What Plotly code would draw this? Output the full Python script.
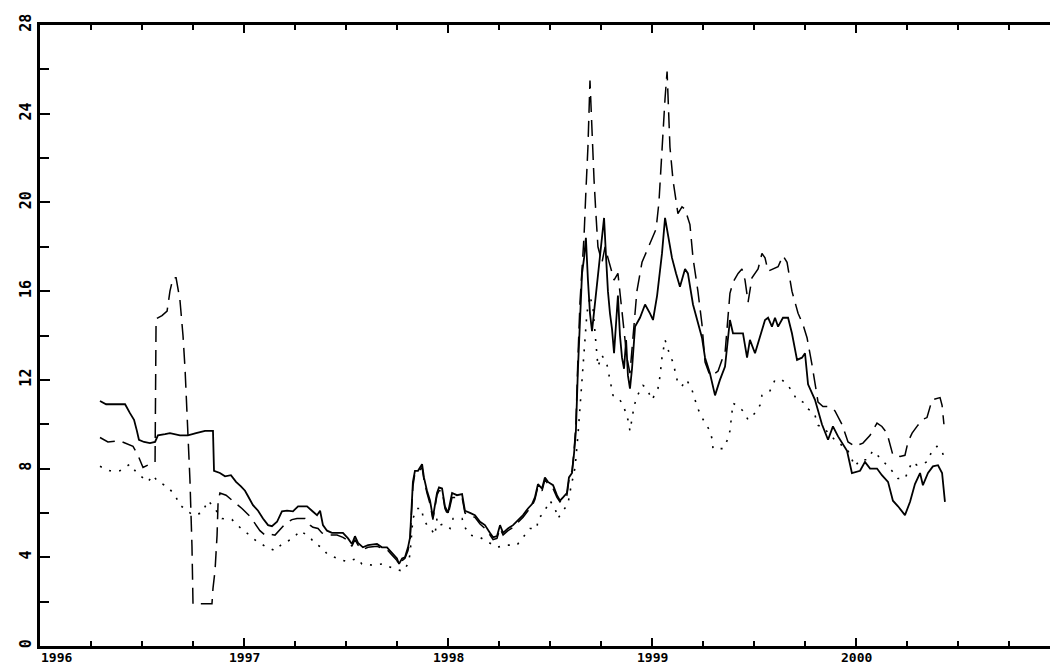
import plotly.graph_objects as go

# ---- series 1 (solid) ----
solid_t = [1996.294, 1996.324, 1996.368, 1996.417, 1996.441, 1996.461, 1996.475, 1996.485, 1996.510, 1996.539,
           1996.564, 1996.578, 1996.613, 1996.637, 1996.686, 1996.725, 1996.765, 1996.809, 1996.848, 1996.853,
           1996.882, 1996.907, 1996.936, 1996.961, 1996.985, 1997.005, 1997.020, 1997.044, 1997.069, 1997.093,
           1997.118, 1997.137, 1997.162, 1997.186, 1997.211, 1997.240, 1997.265, 1997.309, 1997.333, 1997.358,
           1997.373, 1997.387, 1997.407, 1997.431, 1997.456, 1997.485, 1997.510, 1997.529, 1997.544, 1997.559,
           1997.583, 1997.608, 1997.652, 1997.676, 1997.701, 1997.725, 1997.750, 1997.760, 1997.775, 1997.789,
           1997.804, 1997.814, 1997.828, 1997.838, 1997.853, 1997.873, 1997.882, 1997.897, 1997.912, 1997.926,
           1997.946, 1997.956, 1997.971, 1997.985, 1998.000, 1998.020, 1998.044, 1998.069, 1998.083, 1998.108,
           1998.132, 1998.157, 1998.181, 1998.206, 1998.221, 1998.240, 1998.255, 1998.270, 1998.294, 1998.319,
           1998.343, 1998.368, 1998.392, 1998.412, 1998.426, 1998.441, 1998.461, 1998.475, 1998.490, 1998.515,
           1998.534, 1998.549, 1998.564, 1998.583, 1998.593, 1998.608, 1998.618, 1998.627, 1998.637, 1998.647,
           1998.657, 1998.667, 1998.676, 1998.686, 1998.696, 1998.706, 1998.721, 1998.735, 1998.750, 1998.765,
           1998.775, 1998.784, 1998.794, 1998.804, 1998.814, 1998.824, 1998.833, 1998.843, 1998.853, 1998.863,
           1998.873, 1998.882, 1998.892, 1998.902, 1998.917, 1998.941, 1998.966, 1998.990, 1999.005, 1999.025,
           1999.049, 1999.064, 1999.078, 1999.098, 1999.118, 1999.137, 1999.162, 1999.176, 1999.201, 1999.221,
           1999.245, 1999.260, 1999.284, 1999.309, 1999.333, 1999.358, 1999.382, 1999.397, 1999.446, 1999.466,
           1999.480, 1999.505, 1999.529, 1999.554, 1999.569, 1999.588, 1999.603, 1999.618, 1999.642, 1999.667,
           1999.686, 1999.711, 1999.735, 1999.750, 1999.765, 1999.799, 1999.833, 1999.863, 1999.887, 1999.912,
           1999.956, 1999.980, 2000.020, 2000.044, 2000.069, 2000.103, 2000.127, 2000.157, 2000.181, 2000.206,
           2000.240, 2000.265, 2000.289, 2000.314, 2000.328, 2000.353, 2000.377, 2000.402, 2000.422, 2000.426,
           2000.436]
solid_v = [11.05, 10.9, 10.9, 10.9, 10.5, 10.2, 9.7, 9.3, 9.2, 9.15,
           9.2, 9.5, 9.55, 9.6, 9.5, 9.5, 9.6, 9.7, 9.7, 7.9,
           7.8, 7.65, 7.7, 7.4, 7.2, 7.0, 6.75, 6.35, 6.1, 5.75,
           5.45, 5.4, 5.6, 6.07, 6.1, 6.07, 6.3, 6.3, 6.1, 5.9,
           6.1, 5.45, 5.2, 5.1, 5.1, 5.1, 4.85, 4.6, 4.95, 4.65,
           4.45, 4.55, 4.6, 4.45, 4.45, 4.2, 3.95, 3.7, 3.95, 4.0,
           4.45, 4.9, 7.4, 7.9, 7.9, 8.2, 7.6, 7.0, 6.55, 5.8,
           6.9, 7.15, 7.1, 6.3, 6.0, 6.9, 6.8, 6.85, 6.1, 6.0,
           5.9, 5.6, 5.45, 5.1, 4.9, 4.95, 5.45, 5.1, 5.3, 5.45,
           5.65, 5.9, 6.2, 6.4, 6.7, 7.3, 7.1, 7.6, 7.4, 7.25,
           6.8, 6.55, 6.7, 6.9, 7.6, 7.8, 8.7, 9.7, 12.5, 15.0,
           16.8, 17.5, 18.4, 16.5, 15.0, 14.2, 15.5, 16.5, 17.8, 19.3,
           17.5, 16.0, 15.0, 14.3, 13.2, 14.5, 15.8, 14.0, 13.0, 12.5,
           13.8, 12.2, 11.6, 12.5, 14.4, 14.8, 15.4, 15.0, 14.7, 15.8,
           17.7, 19.3, 18.6, 17.5, 16.8, 16.2, 17.0, 16.8, 15.4, 14.7,
           13.9, 13.0, 12.3, 11.3, 12.0, 12.6, 14.7, 14.1, 14.1, 13.0,
           13.8, 13.2, 13.9, 14.7, 14.8, 14.4, 14.8, 14.4, 14.8, 14.8,
           14.1, 12.9, 13.0, 13.2, 11.8, 11.1, 10.0, 9.3, 9.9, 9.45,
           8.8, 7.8, 7.9, 8.3, 8.0, 8.0, 7.7, 7.4, 6.55, 6.3,
           5.9, 6.5, 7.3, 7.8, 7.25, 7.8, 8.1, 8.15, 7.8, 7.3,
           6.5]

# ---- series 2 (dashed) ----
dashed_t = [1996.294, 1996.333, 1996.392, 1996.456, 1996.480, 1996.505, 1996.539, 1996.564, 1996.569, 1996.598,
            1996.623, 1996.637, 1996.652, 1996.667, 1996.686, 1996.701, 1996.711, 1996.721, 1996.725, 1996.735,
            1996.745, 1996.750, 1996.843, 1996.848, 1996.858, 1996.868, 1996.873, 1996.882, 1996.912, 1996.946,
            1996.990, 1997.029, 1997.054, 1997.078, 1997.103, 1997.127, 1997.152, 1997.172, 1997.201, 1997.235,
            1997.260, 1997.299, 1997.324, 1997.338, 1997.363, 1997.382, 1997.407, 1997.431, 1997.456, 1997.485,
            1997.510, 1997.529, 1997.544, 1997.559, 1997.583, 1997.608, 1997.652, 1997.676, 1997.701, 1997.725,
            1997.750, 1997.760, 1997.775, 1997.789, 1997.804, 1997.814, 1997.828, 1997.838, 1997.853, 1997.873,
            1997.882, 1997.897, 1997.912, 1997.926, 1997.946, 1997.956, 1997.971, 1997.985, 1998.000, 1998.020,
            1998.044, 1998.069, 1998.083, 1998.108, 1998.132, 1998.157, 1998.181, 1998.206, 1998.221, 1998.240,
            1998.255, 1998.270, 1998.294, 1998.319, 1998.343, 1998.368, 1998.392, 1998.412, 1998.426, 1998.441,
            1998.461, 1998.475, 1998.490, 1998.515, 1998.534, 1998.549, 1998.564, 1998.583, 1998.593, 1998.608,
            1998.618, 1998.627, 1998.637, 1998.647, 1998.657, 1998.667, 1998.676, 1998.686, 1998.696, 1998.706,
            1998.716, 1998.725, 1998.735, 1998.755, 1998.770, 1998.784, 1998.799, 1998.814, 1998.833, 1998.848,
            1998.863, 1998.877, 1998.892, 1998.907, 1998.926, 1998.951, 1998.975, 1999.000, 1999.020, 1999.034,
            1999.049, 1999.064, 1999.074, 1999.088, 1999.103, 1999.127, 1999.147, 1999.162, 1999.186, 1999.201,
            1999.225, 1999.245, 1999.260, 1999.284, 1999.309, 1999.324, 1999.343, 1999.358, 1999.382, 1999.397,
            1999.422, 1999.441, 1999.456, 1999.471, 1999.490, 1999.520, 1999.539, 1999.554, 1999.569, 1999.593,
            1999.618, 1999.642, 1999.662, 1999.686, 1999.716, 1999.740, 1999.760, 1999.784, 1999.814, 1999.838,
            1999.868, 1999.897, 1999.931, 1999.961, 1999.995, 2000.034, 2000.069, 2000.103, 2000.127, 2000.152,
            2000.181, 2000.216, 2000.240, 2000.255, 2000.275, 2000.299, 2000.324, 2000.348, 2000.373, 2000.412,
            2000.422, 2000.431]
dashed_v = [9.4, 9.2, 9.25, 9.0, 8.6, 8.05, 8.2, 8.3, 14.75, 14.9,
            15.1, 16.0, 16.6, 16.6, 15.6, 14.0, 12.5, 10.5, 9.5, 7.5,
            4.5, 1.9, 1.9, 2.6, 3.4, 5.0, 6.5, 6.9, 6.8, 6.55,
            6.2, 5.85, 5.5, 5.2, 5.0, 5.05, 5.0, 5.2, 5.5, 5.7,
            5.75, 5.75, 5.45, 5.35, 5.3, 5.1, 5.0, 5.0, 5.0, 4.9,
            4.75, 4.5, 4.8, 4.55, 4.35, 4.45, 4.5, 4.4, 4.35, 4.1,
            3.85, 3.65, 3.85, 3.95, 4.3, 4.8, 7.2, 7.8, 7.85, 8.05,
            7.5, 6.9, 6.4, 5.7, 6.8, 7.0, 7.0, 6.2, 5.9, 6.7,
            6.7, 6.7, 6.0, 5.9, 5.8, 5.5, 5.3, 5.0, 4.8, 4.85,
            5.3, 5.0, 5.2, 5.35, 5.55, 5.8, 6.1, 6.3, 6.6, 7.2,
            7.0, 7.5, 7.3, 7.1, 6.7, 6.5, 6.6, 6.8, 7.5, 7.9,
            8.8, 10.0, 13.0, 15.5, 17.0, 18.5, 20.5, 22.5, 25.5, 22.8,
            21.0, 19.5, 18.0, 17.3, 18.0, 17.5, 17.0, 16.5, 16.8, 15.5,
            14.5, 13.0, 12.3, 14.0, 16.0, 17.3, 17.8, 18.4, 18.8, 20.0,
            22.5, 24.7, 25.9, 22.5, 21.0, 19.5, 19.8, 19.7, 19.0, 17.5,
            16.0, 14.5, 12.8, 12.2, 12.3, 12.4, 12.9, 13.2, 15.9, 16.4,
            16.8, 17.0, 16.5, 15.5, 16.6, 17.0, 17.7, 17.5, 16.9, 17.0,
            17.1, 17.6, 17.3, 16.0, 15.0, 14.5, 13.9, 12.7, 11.0, 10.8,
            10.8, 10.6, 10.0, 9.2, 9.0, 9.15, 9.5, 10.05, 9.9, 9.6,
            8.6, 8.55, 8.6, 9.2, 9.6, 9.9, 10.2, 10.3, 11.1, 11.2,
            10.85, 10.0]

# ---- series 3 (dotted) ----
dotted_t = [1996.294, 1996.343, 1996.392, 1996.441, 1996.475, 1996.505, 1996.529, 1996.554, 1996.578, 1996.623,
            1996.662, 1996.686, 1996.716, 1996.750, 1996.794, 1996.824, 1996.848, 1996.892, 1996.941, 1996.980,
            1997.020, 1997.059, 1997.103, 1997.152, 1997.186, 1997.240, 1997.275, 1997.324, 1997.348, 1997.382,
            1997.407, 1997.456, 1997.505, 1997.554, 1997.578, 1997.627, 1997.681, 1997.730, 1997.779, 1997.804,
            1997.814, 1997.824, 1997.828, 1997.848, 1997.873, 1997.877, 1997.897, 1997.922, 1997.936, 1997.946,
            1997.961, 1997.975, 1998.010, 1998.025, 1998.049, 1998.069, 1998.083, 1998.108, 1998.157, 1998.206,
            1998.240, 1998.289, 1998.338, 1998.368, 1998.402, 1998.436, 1998.441, 1998.466, 1998.485, 1998.500,
            1998.525, 1998.539, 1998.564, 1998.588, 1998.598, 1998.623, 1998.637, 1998.652, 1998.667, 1998.681,
            1998.696, 1998.711, 1998.721, 1998.735, 1998.755, 1998.779, 1998.794, 1998.809, 1998.833, 1998.858,
            1998.882, 1998.892, 1998.912, 1998.926, 1998.956, 1998.975, 1999.000, 1999.029, 1999.039, 1999.049,
            1999.064, 1999.074, 1999.088, 1999.103, 1999.113, 1999.123, 1999.147, 1999.162, 1999.176, 1999.196,
            1999.211, 1999.225, 1999.245, 1999.260, 1999.284, 1999.294, 1999.299, 1999.348, 1999.373, 1999.382,
            1999.392, 1999.397, 1999.422, 1999.446, 1999.471, 1999.505, 1999.529, 1999.539, 1999.578, 1999.603,
            1999.637, 1999.667, 1999.691, 1999.711, 1999.740, 1999.760, 1999.784, 1999.799, 1999.814, 1999.848,
            1999.863, 1999.907, 1999.956, 1999.995, 2000.020, 2000.054, 2000.083, 2000.127, 2000.176, 2000.206,
            2000.240, 2000.255, 2000.275, 2000.299, 2000.348, 2000.373, 2000.397, 2000.422, 2000.436]
dotted_v = [8.1, 7.9, 7.9, 8.2, 7.8, 7.6, 7.4, 7.7, 7.4, 7.2,
            6.8, 6.35, 6.15, 5.9, 6.0, 6.55, 6.3, 5.75, 5.7, 5.35,
            5.05, 4.75, 4.5, 4.3, 4.6, 4.85, 5.2, 4.9, 4.6, 4.45,
            4.15, 3.95, 3.8, 3.95, 3.7, 3.65, 3.7, 3.5, 3.37, 3.7,
            4.15, 5.2, 5.75, 6.2, 6.2, 5.8, 5.45, 5.2, 5.0, 5.75,
            5.45, 5.5, 5.3, 5.75, 5.75, 5.75, 5.35, 5.0, 4.9, 4.65,
            4.45, 4.55, 4.55, 4.9, 5.3, 5.3, 5.75, 5.95, 6.25, 6.55,
            6.2, 5.75, 6.1, 6.4, 6.95, 8.05, 9.5, 11.5, 13.5, 15.0,
            15.8, 15.2, 14.1, 12.6, 13.1, 12.7, 12.0, 11.3, 11.2, 10.9,
            10.2, 9.7, 10.8, 11.25, 11.75, 11.6, 11.1, 11.6, 12.15, 13.0,
            13.8, 13.5, 13.1, 12.8, 12.35, 12.0, 11.7, 12.0, 11.9, 11.55,
            11.1, 10.7, 10.3, 10.05, 9.7, 9.35, 8.9, 8.9, 9.35, 9.7,
            10.5, 10.95, 10.8, 10.6, 10.2, 10.5, 10.85, 11.3, 11.5, 12.0,
            12.0, 11.75, 11.4, 11.1, 11.0, 10.7, 10.6, 10.4, 9.95, 9.8,
            9.6, 9.2, 8.9, 8.1, 8.4, 8.4, 8.8, 8.4, 7.9, 7.55,
            7.55, 7.9, 8.3, 8.15, 8.3, 8.8, 9.0, 8.8, 8.3]

# ---- axes ----
year_ticks = [1996, 1997, 1998, 1999, 2000]
year_labels = ["1996", "1997", "1998", "1999", "2000"]
y_ticks = [0, 4, 8, 12, 16, 20, 24, 28]
y_labels = ["0", "4", "8", "12", "16", "20", "24", "28"]

X_RANGE = [1996, 2000.951]
Y_RANGE = [0, 28]

Y_FONT = dict(family="DejaVu Sans Mono", size=15, color="black", weight="bold")
X_FONT = dict(family="DejaVu Sans Mono", size=13, color="black", weight="bold")

fig = go.Figure()
fig.add_trace(go.Scatter(x=solid_t, y=solid_v, mode="lines",
                         line=dict(color="black", width=1.8)))
fig.add_trace(go.Scatter(x=dashed_t, y=dashed_v, mode="lines",
                         line=dict(color="black", width=1.5, dash="16px,8px")))
fig.add_trace(go.Scatter(x=dotted_t, y=dotted_v, mode="lines",
                         line=dict(color="black", width=1.6, dash="2px,8px")))

# year labels under the bottom axis; the first one sits flush with the left axis
for yr, lab in zip(year_ticks, year_labels):
    fig.add_annotation(x=yr, y=0, xref="x", yref="paper", text=lab,
                       showarrow=False, yanchor="top", yshift=-3,
                       xanchor="left" if yr == year_ticks[0] else "center",
                       font=X_FONT, borderpad=0)

fig.update_layout(
    width=1050, height=666,
    margin=dict(l=40, r=0, t=25, b=20),
    paper_bgcolor="white", plot_bgcolor="white",
    showlegend=False,
    xaxis=dict(range=X_RANGE, showgrid=False, zeroline=False,
               showline=True, linecolor="black", linewidth=3, mirror="ticks",
               tickvals=year_ticks, showticklabels=False,
               ticks="inside", ticklen=8, tickwidth=1.5, tickcolor="black",
               minor=dict(dtick=0.25, tick0=1996, ticks="inside", ticklen=5,
                          tickwidth=1.5, tickcolor="black", showgrid=False)),
    yaxis=dict(range=Y_RANGE, showgrid=False, zeroline=False,
               showline=True, linecolor="black", linewidth=2.5,
               tickvals=y_ticks, ticktext=y_labels, tickangle=-90,
               ticks="inside", ticklen=10, tickwidth=1.5, tickcolor="black",
               tickfont=Y_FONT,
               minor=dict(dtick=2, tick0=0, ticks="inside", ticklen=9,
                          tickwidth=1.5, tickcolor="black", showgrid=False)),
)

fig.write_html("out.html")
